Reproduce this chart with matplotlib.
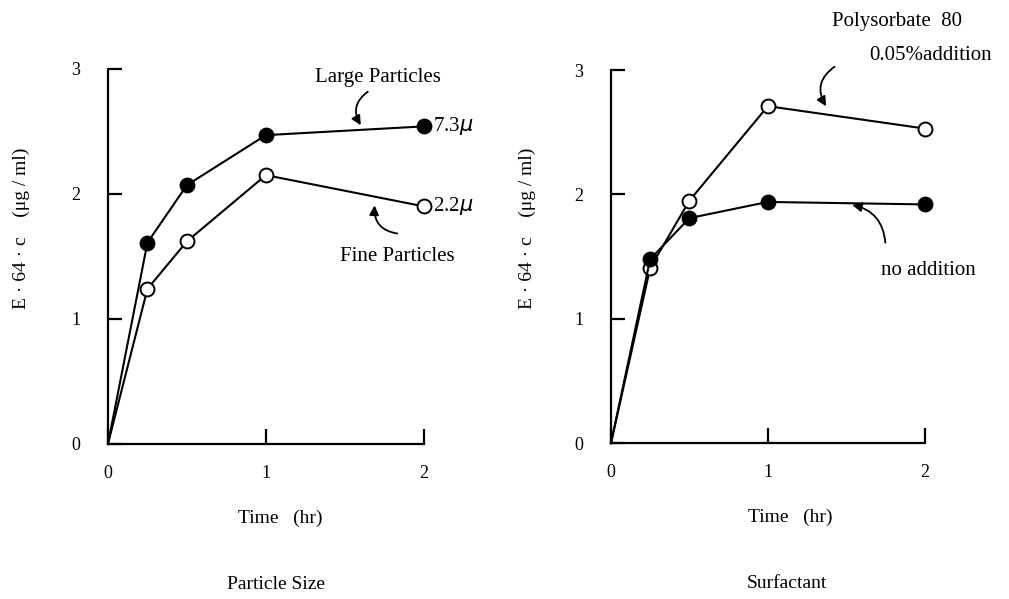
import numpy as np
import matplotlib.pyplot as plt

plt.rcParams['font.family'] = ['Liberation Serif', 'DejaVu Serif']
plt.rcParams['font.size'] = 14

# time points (hr)
t = [0, 0.25, 0.5, 1, 2]

# Particle Size
large = [0, 1.61, 2.07, 2.47, 2.54]
fine = [0, 1.24, 1.62, 2.15, 1.90]

# Surfactant
polysorbate = [0, 1.41, 1.95, 2.71, 2.53]
no_add = [0, 1.48, 1.81, 1.94, 1.92]

xticks = [0, 1, 2]
yticks = [0, 1, 2, 3]
ylab = 'E · 64 · c    (μg / ml)'

fig = plt.figure(figsize=(10.09, 5.99), dpi=100)
ax1 = fig.add_axes([0.107, 0.259, 0.313, 0.626])
ax2 = fig.add_axes([0.6055, 0.26, 0.311, 0.623])


def style(ax, lab_x, ylab_x):
    ax.set_xlim(0, 2)
    ax.set_ylim(0, 3)
    for s in ['top', 'right']:
        ax.spines[s].set_visible(False)
    for s in ['left', 'bottom']:
        ax.spines[s].set_linewidth(1.6)
    ax.set_xticks(xticks)
    ax.set_yticks(yticks)
    ax.tick_params(axis='x', direction='in', length=11, width=1.6, pad=15, labelsize=13)
    ax.tick_params(axis='y', direction='in', length=10, width=1.6, pad=20, labelsize=13)
    ax.set_xlabel('Time   (hr)', fontsize=14)
    ax.xaxis.set_label_coords(lab_x, -0.175)
    ax.set_ylabel(ylab, fontsize=14)
    ax.yaxis.set_label_coords(ylab_x, 0.576)


def series(ax, y, filled):
    ax.plot(t, y, color='black', lw=1.5, marker='o', ms=10, markevery=[1, 2, 3, 4],
            mfc='black' if filled else 'white', mec='black', mew=1.4, clip_on=False, zorder=3)


arrow = dict(arrowstyle='-|>', color='black', lw=1.3, mutation_scale=14)

# Particle Size
style(ax1, 0.547, -0.247)
series(ax1, large, True)
series(ax1, fine, False)
ax1.text(2.06, large[-1], '7.3$\\mu$', va='center', ha='left', fontsize=15)
ax1.text(2.06, fine[-1], '2.2$\\mu$', va='center', ha='left', fontsize=15)
ax1.text(1.71, 2.93, 'Large Particles', ha='center', va='center', fontsize=15)
ax1.annotate('', xy=(1.61, 2.53), xytext=(1.66, 2.83),
             arrowprops=dict(arrow, connectionstyle='arc3,rad=0.5'))
ax1.text(1.83, 1.50, 'Fine Particles', ha='center', va='center', fontsize=15)
ax1.annotate('', xy=(1.69, 1.93), xytext=(1.85, 1.68),
             arrowprops=dict(arrow, connectionstyle='arc3,rad=-0.5'))
ax1.text(0.532, -0.376, 'Particle Size', transform=ax1.transAxes, ha='center', va='center', fontsize=14)

# Surfactant
style(ax2, 0.570, -0.239)
series(ax2, polysorbate, False)
series(ax2, no_add, True)
ax2.text(1.82, 3.39, 'Polysorbate  80', ha='center', va='center', fontsize=15, clip_on=False)
ax2.text(2.04, 3.12, '0.05%addition', ha='center', va='center', fontsize=15, clip_on=False)
ax2.annotate('', xy=(1.38, 2.69), xytext=(1.44, 3.04),
             arrowprops=dict(arrow, connectionstyle='arc3,rad=0.5'))
ax2.text(2.02, 1.39, 'no addition', ha='center', va='center', fontsize=15)
ax2.annotate('', xy=(1.52, 1.92), xytext=(1.75, 1.59),
             arrowprops=dict(arrow, connectionstyle='arc3,rad=0.4'))
ax2.text(0.561, -0.376, 'Surfactant', transform=ax2.transAxes, ha='center', va='center', fontsize=14)

fig.savefig('out.png', dpi=100, facecolor='white')
